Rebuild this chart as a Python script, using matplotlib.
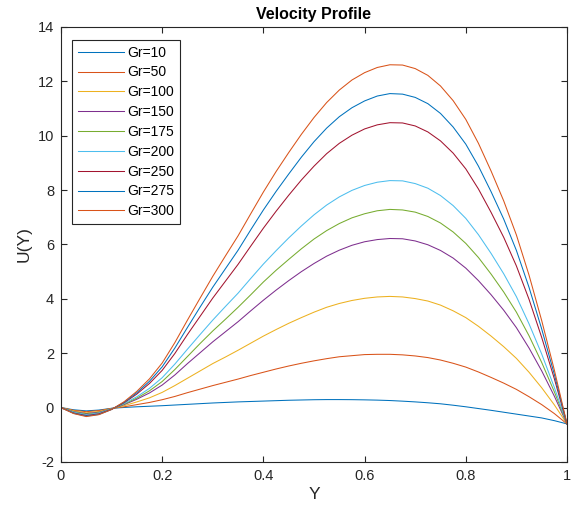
import matplotlib.pyplot as plt
from matplotlib.ticker import FuncFormatter
import numpy as np

plt.rcParams['font.family'] = ['Liberation Sans', 'DejaVu Sans']

# data (Y step 0.025)
y = [0, 0.025, 0.05, 0.075, 0.1, 0.125, 0.15, 0.175, 0.2, 0.225, 0.25, 0.275,
     0.3, 0.325, 0.35, 0.375, 0.4, 0.425, 0.45, 0.475, 0.5, 0.525, 0.55, 0.575,
     0.6, 0.625, 0.65, 0.675, 0.7, 0.725, 0.75, 0.775, 0.8, 0.825, 0.85, 0.875,
     0.9, 0.925, 0.95, 0.975, 1.0]

gr_labels = ["Gr=10", "Gr=50", "Gr=100", "Gr=150", "Gr=175",
             "Gr=200", "Gr=250", "Gr=275", "Gr=300"]

u_gr10 = [0, -0.08, -0.12, -0.09, -0.025, 0.005, 0.03, 0.05, 0.07, 0.095, 0.12, 0.145,
          0.17, 0.19, 0.21, 0.225, 0.24, 0.255, 0.27, 0.28, 0.29, 0.295, 0.295, 0.292,
          0.285, 0.275, 0.26, 0.237, 0.21, 0.178, 0.14, 0.088, 0.03, -0.035, -0.1, -0.17,
          -0.24, -0.31, -0.38, -0.48, -0.6]
u_gr50 = [0, -0.10, -0.15, -0.11, -0.03, 0.03, 0.11, 0.19, 0.29, 0.41, 0.55, 0.68,
          0.81, 0.93, 1.05, 1.18, 1.30, 1.42, 1.53, 1.63, 1.72, 1.80, 1.87, 1.91,
          1.95, 1.96, 1.96, 1.94, 1.90, 1.84, 1.75, 1.63, 1.49, 1.31, 1.11, 0.90,
          0.67, 0.40, 0.11, -0.22, -0.6]
u_gr100 = [0, -0.12, -0.19, -0.14, -0.04, 0.07, 0.21, 0.36, 0.56, 0.81, 1.08, 1.35,
           1.62, 1.86, 2.11, 2.37, 2.63, 2.87, 3.10, 3.31, 3.51, 3.69, 3.83, 3.94,
           4.02, 4.07, 4.09, 4.07, 4.01, 3.92, 3.77, 3.56, 3.31, 2.99, 2.63, 2.24,
           1.81, 1.30, 0.73, 0.10, -0.6]
u_gr150 = [0, -0.15, -0.22, -0.17, -0.05, 0.11, 0.31, 0.54, 0.83, 1.20, 1.62, 2.02,
           2.42, 2.79, 3.16, 3.56, 3.95, 4.32, 4.67, 5.00, 5.30, 5.57, 5.79, 5.97,
           6.10, 6.18, 6.22, 6.21, 6.13, 5.99, 5.78, 5.50, 5.13, 4.67, 4.15, 3.58,
           2.94, 2.19, 1.35, 0.42, -0.6]
u_gr175 = [0, -0.16, -0.24, -0.19, -0.05, 0.13, 0.35, 0.62, 0.96, 1.40, 1.88, 2.36,
           2.82, 3.25, 3.69, 4.15, 4.62, 5.05, 5.45, 5.84, 6.20, 6.51, 6.77, 6.98,
           7.13, 7.24, 7.29, 7.27, 7.19, 7.03, 6.79, 6.46, 6.04, 5.52, 4.91, 4.25,
           3.51, 2.64, 1.66, 0.58, -0.6]
u_gr200 = [0, -0.17, -0.26, -0.20, -0.05, 0.15, 0.40, 0.71, 1.10, 1.60, 2.15, 2.69,
           3.22, 3.72, 4.21, 4.75, 5.28, 5.77, 6.24, 6.68, 7.09, 7.45, 7.75, 7.99,
           8.17, 8.29, 8.35, 8.34, 8.24, 8.07, 7.80, 7.43, 6.96, 6.36, 5.67, 4.92,
           4.08, 3.08, 1.97, 0.74, -0.6]
u_gr250 = [0, -0.20, -0.29, -0.23, -0.06, 0.18, 0.50, 0.89, 1.37, 1.99, 2.69, 3.36,
           4.03, 4.65, 5.27, 5.94, 6.60, 7.22, 7.81, 8.37, 8.88, 9.34, 9.72, 10.02,
           10.25, 10.40, 10.48, 10.47, 10.36, 10.14, 9.81, 9.36, 8.78, 8.04, 7.18, 6.26,
           5.21, 3.98, 2.58, 1.06, -0.6]
u_gr275 = [0, -0.21, -0.31, -0.25, -0.07, 0.20, 0.55, 0.97, 1.50, 2.19, 2.95, 3.70,
           4.43, 5.11, 5.79, 6.54, 7.27, 7.95, 8.59, 9.21, 9.78, 10.28, 10.70, 11.03,
           11.28, 11.46, 11.55, 11.53, 11.41, 11.18, 10.82, 10.32, 9.69, 8.88, 7.94, 6.93,
           5.78, 4.42, 2.89, 1.22, -0.6]
u_gr300 = [0, -0.22, -0.33, -0.26, -0.07, 0.22, 0.60, 1.06, 1.64, 2.39, 3.22, 4.03,
           4.83, 5.58, 6.32, 7.13, 7.93, 8.68, 9.38, 10.05, 10.67, 11.22, 11.68, 12.05,
           12.32, 12.51, 12.61, 12.60, 12.47, 12.22, 11.83, 11.29, 10.60, 9.72, 8.70, 7.60,
           6.35, 4.87, 3.20, 1.38, -0.6]

profiles = [u_gr10, u_gr50, u_gr100, u_gr150, u_gr175,
            u_gr200, u_gr250, u_gr275, u_gr300]

# matlab default colour order (wraps after 7)
colors = ["#0072BD", "#D95319", "#EDB120", "#7E2F8E", "#77AC30",
          "#4DBEEE", "#A2142F", "#0072BD", "#D95319"]

fig = plt.figure(figsize=(5.71, 5.12), dpi=100)
ax = fig.add_axes([0.1068, 0.0977, 0.8862, 0.8496])

for u, lab, c in zip(profiles, gr_labels, colors):
    ax.plot(y, u, color=c, lw=0.75, label=lab)

ax.set_xlim(0, 1)
ax.set_ylim(-2, 14)
ax.set_xticks(np.arange(0, 1.01, 0.2))
ax.set_yticks(np.arange(-2, 15, 2))
ax.xaxis.set_major_formatter(FuncFormatter(lambda v, p: f"{v:g}"))
ax.yaxis.set_major_formatter(FuncFormatter(lambda v, p: f"{v:g}"))

axc = "#262626"
for s in ax.spines.values():
    s.set_color(axc)
    s.set_linewidth(0.8)
ax.tick_params(direction="in", length=4, width=0.8, colors=axc,
               labelsize=10.5, top=True, right=True, pad=5)

ax.set_xlabel("Y", fontsize=12.5, color=axc, labelpad=3)
ax.set_ylabel("U(Y)", fontsize=12.5, color=axc, labelpad=4)
ax.set_title("Velocity Profile", fontsize=11.5, fontweight="bold", pad=6)

leg = ax.legend(loc="upper left", bbox_to_anchor=(0.022, 0.97), borderaxespad=0,
                fontsize=10, handlelength=3.3, labelspacing=0.42, fancybox=False,
                framealpha=1, edgecolor=axc, borderpad=0.4, handletextpad=0.3)
leg.get_frame().set_linewidth(0.8)

fig.savefig("out.png", dpi=100)
